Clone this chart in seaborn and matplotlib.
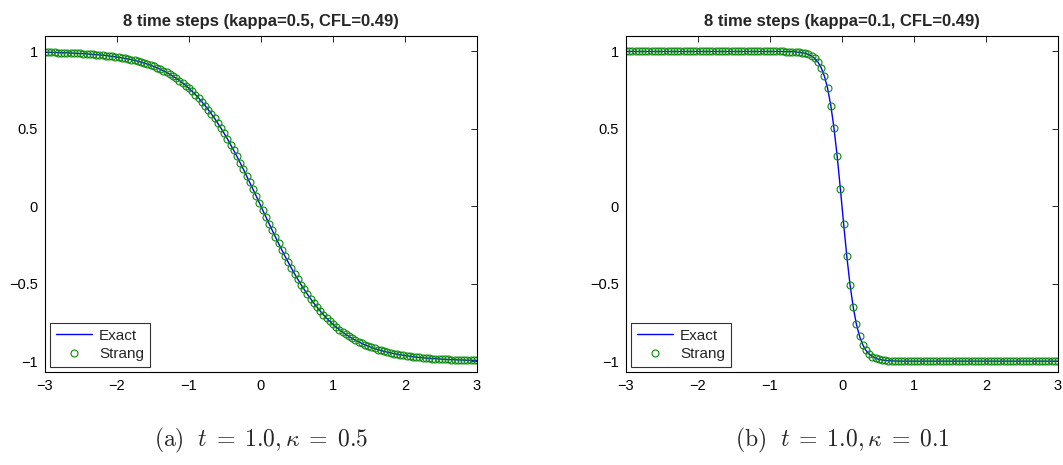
import numpy as np
import matplotlib
matplotlib.use("Agg")
import matplotlib.pyplot as plt
import seaborn as sns

# Solution values on the grid from x = -3 to x = 3 (136 nodes)
left_y = [
    0.995, 0.995, 0.994, 0.994, 0.993, 0.992, 0.992, 0.991, 0.990, 0.989,
    0.988, 0.987, 0.986, 0.984, 0.983, 0.981, 0.980, 0.978, 0.976, 0.974,
    0.971, 0.968, 0.966, 0.962, 0.959, 0.955, 0.951, 0.947, 0.942, 0.937,
    0.931, 0.925, 0.918, 0.911, 0.903, 0.895, 0.885, 0.875, 0.865, 0.853,
    0.840, 0.827, 0.812, 0.797, 0.780, 0.762, 0.742, 0.722, 0.700, 0.676,
    0.651, 0.625, 0.597, 0.568, 0.537, 0.505, 0.471, 0.436, 0.399, 0.361,
    0.322, 0.281, 0.240, 0.197, 0.154, 0.111, 0.067, 0.022,
    -0.022, -0.067, -0.111, -0.154, -0.197, -0.240, -0.281, -0.322,
    -0.361, -0.399, -0.436, -0.471, -0.505, -0.537, -0.568, -0.597, -0.625, -0.651,
    -0.676, -0.700, -0.722, -0.742, -0.762, -0.780, -0.797, -0.812, -0.827, -0.840,
    -0.853, -0.865, -0.875, -0.885, -0.895, -0.903, -0.911, -0.918, -0.925, -0.931,
    -0.937, -0.942, -0.947, -0.951, -0.955, -0.959, -0.962, -0.966, -0.968, -0.971,
    -0.974, -0.976, -0.978, -0.980, -0.981, -0.983, -0.984, -0.986, -0.987, -0.988,
    -0.989, -0.990, -0.991, -0.992, -0.992, -0.993, -0.994, -0.994, -0.995, -0.995,
]

right_y = [
    1.0, 1.0, 1.0, 1.0, 1.0, 1.0, 1.0, 1.0, 1.0, 1.0,
    1.0, 1.0, 1.0, 1.0, 1.0, 1.0, 1.0, 1.0, 1.0, 1.0,
    1.0, 1.0, 1.0, 1.0, 1.0, 1.0, 1.0, 1.0, 1.0, 1.0,
    1.0, 1.0, 1.0, 1.0, 1.0, 1.0, 1.0, 1.0, 1.0, 1.0,
    1.0, 1.0, 1.0, 1.0, 1.0, 1.0, 1.0, 1.0, 1.0, 1.0,
    0.999, 0.999, 0.998, 0.997, 0.995, 0.992, 0.988, 0.981, 0.971, 0.955,
    0.931, 0.895, 0.840, 0.762, 0.651, 0.505, 0.322, 0.111,
    -0.111, -0.322, -0.505, -0.651, -0.762, -0.840, -0.895, -0.931,
    -0.955, -0.971, -0.981, -0.988, -0.992, -0.995, -0.997, -0.998, -0.999, -0.999,
    -1.0, -1.0, -1.0, -1.0, -1.0, -1.0, -1.0, -1.0, -1.0, -1.0,
    -1.0, -1.0, -1.0, -1.0, -1.0, -1.0, -1.0, -1.0, -1.0, -1.0,
    -1.0, -1.0, -1.0, -1.0, -1.0, -1.0, -1.0, -1.0, -1.0, -1.0,
    -1.0, -1.0, -1.0, -1.0, -1.0, -1.0, -1.0, -1.0, -1.0, -1.0,
    -1.0, -1.0, -1.0, -1.0, -1.0, -1.0, -1.0, -1.0, -1.0, -1.0,
]

titles = ["8 time steps (kappa=0.5, CFL=0.49)", "8 time steps (kappa=0.1, CFL=0.49)"]
captions = [r"$\mathrm{(a)}\ \ t\;=\;1.0, \kappa\;=\;0.5$",
            r"$\mathrm{(b)}\ \ t\;=\;1.0, \kappa\;=\;0.1$"]
x_ticks = [-3, -2, -1, 0, 1, 2, 3]
x_tick_labels = ["\u22123", "\u22122", "\u22121", "0", "1", "2", "3"]
y_ticks = [-1, -0.5, 0, 0.5, 1]
y_tick_labels = ["\u22121", "\u22120.5", "0", "0.5", "1"]

sns.set_style("white")
plt.rcParams["font.family"] = ["Liberation Sans", "DejaVu Sans"]
plt.rcParams["mathtext.fontset"] = "cm"

fig = plt.figure(figsize=(10.63, 4.65), dpi=100)
axes = [
    fig.add_axes([0.0423, 0.200, 0.4064, 0.7226]),
    fig.add_axes([0.5889, 0.200, 0.4064, 0.7226]),
]

green = "#0a8a0a"
for ax, ys, title, cap in zip(axes, [left_y, right_y], titles, captions):
    xs = np.linspace(-3, 3, len(ys))
    sns.lineplot(x=xs, y=ys, ax=ax, color="#0000ff", linewidth=1.0,
                 label="Exact", sort=False, estimator=None)
    sns.lineplot(x=xs, y=ys, ax=ax, linestyle="", marker="o", markersize=5.0,
                 markerfacecolor="none", markeredgecolor=green,
                 markeredgewidth=0.8, color=green, label="Strang",
                 sort=False, estimator=None)
    ax.set_xlim(-3, 3)
    ax.set_ylim(-1.07, 1.10)
    ax.set_xticks(x_ticks)
    ax.set_xticklabels(x_tick_labels)
    ax.set_yticks(y_ticks)
    ax.set_yticklabels(y_tick_labels)
    ax.tick_params(direction="in", length=4.5, width=0.6, top=True, right=True,
                   labelsize=10.5, colors="black", pad=5)
    for sp in ax.spines.values():
        sp.set_color("black")
        sp.set_linewidth(0.8)
    ax.set_title(title, fontsize=12, fontweight="bold", pad=7)
    ax.set_xlabel("")
    ax.set_ylabel("")
    leg = ax.legend(loc="lower left", fontsize=11, frameon=True, fancybox=False,
                    handlelength=2.4, borderpad=0.35, labelspacing=0.3,
                    handletextpad=0.45, borderaxespad=0.35)
    leg.get_frame().set_edgecolor("black")
    leg.get_frame().set_linewidth(0.8)
    pos = ax.get_position()
    fig.text((pos.x0 + pos.x1) / 2, 0.052, cap, fontsize=17, ha="center", va="center")

fig.savefig("out.png", dpi=100, facecolor="white")
